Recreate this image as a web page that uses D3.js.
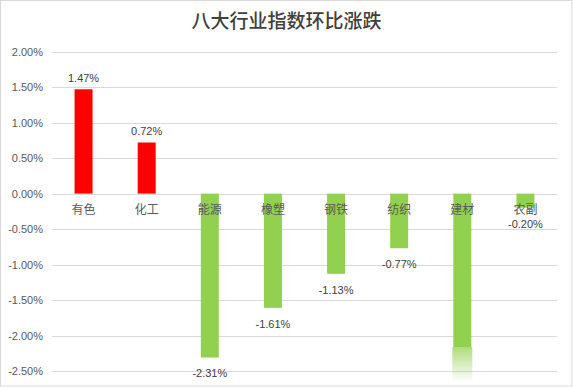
<!DOCTYPE html>
<html>
<head>
<meta charset="utf-8">
<script src="https://cdn.jsdelivr.net/npm/d3@7"></script>
<style>
  html, body { margin: 0; padding: 0; background: #fff; }
  svg { display: block; }
</style>
</head>
<body>
<div id="chart"></div>
<script>
// data
const categories = ['有色', '化工', '能源', '橡塑', '钢铁', '纺织', '建材', '农副'];
const values = [1.47, 0.72, -2.31, -1.61, -1.13, -0.77, -2.95, -0.20]; // 建材 runs off the axis, no label shown
const yTicks = [2.0, 1.5, 1.0, 0.5, 0.0, -0.5, -1.0, -1.5, -2.0, -2.5];
const title = '八大行业指数环比涨跌';

const width = 573;
const height = 387;
const margin = { top: 52, right: 16, bottom: 16, left: 52 };

const numFont = '"Liberation Sans", "Noto Sans CJK SC", sans-serif';
const cjkFont = '"Noto Sans CJK SC", sans-serif';

const svg = d3.select('#chart')
  .append('svg')
  .attr('width', width)
  .attr('height', height);

// chart border
svg.append('rect')
  .attr('x', 0.5).attr('y', 0.5)
  .attr('width', width - 1.5).attr('height', height - 1.5)
  .attr('fill', '#fff')
  .attr('stroke', '#d9d9d9');

const x = d3.scaleBand()
  .domain(categories)
  .range([margin.left, 557])
  .paddingInner(0.715)
  .paddingOuter(0.3575);

const y = d3.scaleLinear()
  .domain([-2.5, 2.0])
  .range([371, 51.7]);

// gridlines
svg.append('g')
  .selectAll('line')
  .data(yTicks)
  .enter().append('line')
  .attr('x1', margin.left)
  .attr('x2', 557)
  .attr('y1', d => Math.round(y(d)) + 0.5)
  .attr('y2', d => Math.round(y(d)) + 0.5)
  .attr('stroke', '#d9d9d9')
  .attr('stroke-width', 1);

// y axis labels
const yAxis = svg.append('g')
  .attr('transform', `translate(${margin.left - 9}, 0)`)
  .call(d3.axisLeft(y).tickValues(yTicks).tickSize(0).tickFormat(d => d.toFixed(2) + '%'));
yAxis.select('.domain').remove();
yAxis.selectAll('text')
  .attr('x', 0)
  .attr('font-family', numFont)
  .attr('font-size', '11px')
  .attr('fill', '#595959');

// fade for bars that go past the axis minimum
const defs = svg.append('defs');
const fade = defs.append('linearGradient')
  .attr('id', 'fade')
  .attr('x1', 0).attr('y1', 0).attr('x2', 0).attr('y2', 1);
fade.append('stop').attr('offset', '0%').attr('stop-color', '#92d050').attr('stop-opacity', 0.75);
fade.append('stop').attr('offset', '100%').attr('stop-color', '#92d050').attr('stop-opacity', 0);

const yMin = y.domain()[0];
const data = categories.map((c, i) => ({ name: c, value: values[i] }));

const bars = svg.append('g');
bars.selectAll('rect')
  .data(data)
  .enter().append('rect')
  .attr('x', d => x(d.name))
  .attr('width', x.bandwidth())
  .attr('y', d => d.value >= 0 ? y(d.value) : y(0))
  .attr('height', d => {
    if (d.value >= 0) return y(0) - y(d.value);
    if (d.value < yMin) return y(yMin) - 24 - y(0);
    return y(d.value) - y(0);
  })
  .attr('fill', d => d.value >= 0 ? '#ff0000' : '#92d050');

// faded tail for off-scale bars
bars.selectAll('rect.tail')
  .data(data.filter(d => d.value < yMin))
  .enter().append('rect')
  .attr('class', 'tail')
  .attr('x', d => x(d.name) - 1)
  .attr('width', x.bandwidth() + 2)
  .attr('y', y(yMin) - 24)
  .attr('height', 35)
  .attr('fill', 'url(#fade)');

// category labels next to the zero line
svg.append('g')
  .selectAll('text')
  .data(categories)
  .enter().append('text')
  .attr('x', d => x(d) + x.bandwidth() / 2)
  .attr('y', y(0) + 17)
  .attr('dominant-baseline', 'middle')
  .attr('text-anchor', 'middle')
  .attr('font-family', cjkFont)
  .attr('font-size', '12px')
  .attr('fill', '#595959')
  .text(d => d);

// value labels
svg.append('g')
  .selectAll('text')
  .data(data.filter(d => d.value >= yMin))
  .enter().append('text')
  .attr('x', d => x(d.name) + x.bandwidth() / 2)
  .attr('y', d => d.value >= 0 ? y(d.value) - 10 : y(d.value) + 17)
  .attr('dominant-baseline', 'middle')
  .attr('text-anchor', 'middle')
  .attr('font-family', numFont)
  .attr('font-size', '11px')
  .attr('fill', '#404040')
  .text(d => d.value.toFixed(2) + '%');

// title
svg.append('text')
  .attr('x', width / 2)
  .attr('y', 23)
  .attr('dominant-baseline', 'middle')
  .attr('text-anchor', 'middle')
  .attr('font-family', cjkFont)
  .attr('font-size', '19px')
  .attr('font-weight', 500)
  .attr('fill', '#404040')
  .text(title);
</script>
</body>
</html>
